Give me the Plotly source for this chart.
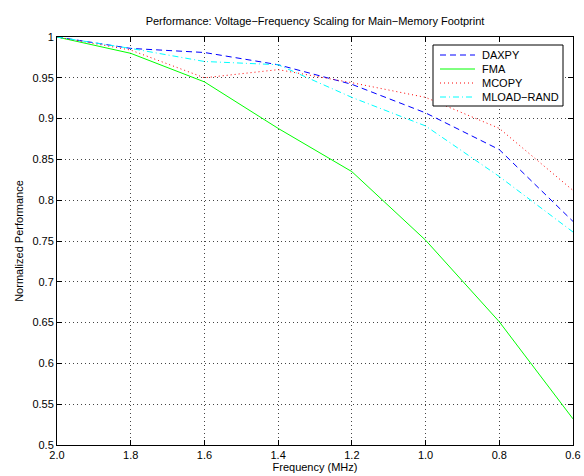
import plotly.graph_objects as go

freq = [2.0, 1.8, 1.6, 1.4, 1.2, 1.0, 0.8, 0.6]
daxpy = [1.0, 0.986, 0.981, 0.966, 0.942, 0.907, 0.862, 0.774]
fma = [1.0, 0.980, 0.945, 0.888, 0.835, 0.751, 0.651, 0.532]
mcopy = [1.0, 0.984, 0.950, 0.960, 0.944, 0.926, 0.888, 0.812]
mload = [1.0, 0.986, 0.970, 0.966, 0.926, 0.891, 0.829, 0.761]

series_names = ["DAXPY", "FMA", "MCOPY", "MLOAD\u2212RAND"]
series_values = [daxpy, fma, mcopy, mload]

xticks = [2.0, 1.8, 1.6, 1.4, 1.2, 1.0, 0.8, 0.6]
xticklabels = ["2.0", "1.8", "1.6", "1.4", "1.2", "1.0", "0.8", "0.6"]
yticks = [0.5, 0.55, 0.6, 0.65, 0.7, 0.75, 0.8, 0.85, 0.9, 0.95, 1.0]
yticklabels = ["0.5", "0.55", "0.6", "0.65", "0.7", "0.75", "0.8", "0.85", "0.9", "0.95", "1"]

FONT = "Liberation Sans, Arial, Helvetica, sans-serif"
W, H = 584, 476
ML, MR, MT, MB = 57, 11, 37, 31
PW, PH = W - ML - MR, H - MT - MB

styles = [
    dict(color="#0000ff", width=1, dash="6px,4px"),
    dict(color="#00ff00", width=1),
    dict(color="#ff0000", width=1, dash="1px,3px"),
    dict(color="#00ffff", width=1, dash="6px,3px,1px,3px"),
]

fig = go.Figure()
for name, vals, st in zip(series_names, series_values, styles):
    fig.add_trace(go.Scatter(x=freq, y=vals, name=name, mode="lines",
                             line=st, showlegend=False))

axis_common = dict(
    showline=True, linecolor="black", linewidth=1, mirror="ticks",
    ticks="inside", ticklen=5, tickwidth=1, tickcolor="black",
    showgrid=True, gridcolor="#444444", gridwidth=1, griddash="1px,3px",
    zeroline=False, automargin=False,
    tickfont=dict(family=FONT, size=11, color="black"),
)

fig.update_xaxes(range=[2.0, 0.6], tickvals=xticks, ticktext=xticklabels,
                 title=dict(text="Frequency (MHz)", font=dict(family=FONT, size=11, color="black"), standoff=2),
                 **axis_common)
fig.update_yaxes(range=[0.5, 1.0], tickvals=yticks, ticktext=yticklabels,
                 title=dict(text="Normalized Performance", font=dict(family=FONT, size=11, color="black"), standoff=6),
                 **axis_common)


# legend drawn as a box in paper coordinates (pixel positions converted)
def px(x):
    return (x - ML) / PW


def py(y):
    return 1 - (y - MT) / PH


shapes = [dict(type="rect", xref="paper", yref="paper",
               x0=px(433), x1=px(563), y0=py(106), y1=py(45),
               line=dict(color="black", width=1), fillcolor="white", layer="above")]
annotations = []
rows = [55, 69, 83, 97]
for name, st, ry in zip(series_names, styles, rows):
    shapes.append(dict(type="line", xref="paper", yref="paper",
                       x0=px(440), x1=px(475), y0=py(ry), y1=py(ry),
                       line=st, layer="above"))
    annotations.append(dict(text=name, xref="paper", yref="paper",
                            x=px(480), y=py(ry), xanchor="left", yanchor="middle",
                            showarrow=False, font=dict(family=FONT, size=11, color="black")))

fig.update_layout(
    width=W, height=H,
    margin=dict(l=ML, r=MR, t=MT, b=MB),
    paper_bgcolor="white", plot_bgcolor="white",
    title=dict(text="Performance: Voltage\u2212Frequency Scaling for Main\u2212Memory Footprint",
               font=dict(family=FONT, size=11, color="black"),
               x=0.5, xref="paper", xanchor="center", y=1 - 21 / H, yanchor="middle"),
    showlegend=False,
    shapes=shapes,
    annotations=annotations,
)

fig.write_html("out.html")
